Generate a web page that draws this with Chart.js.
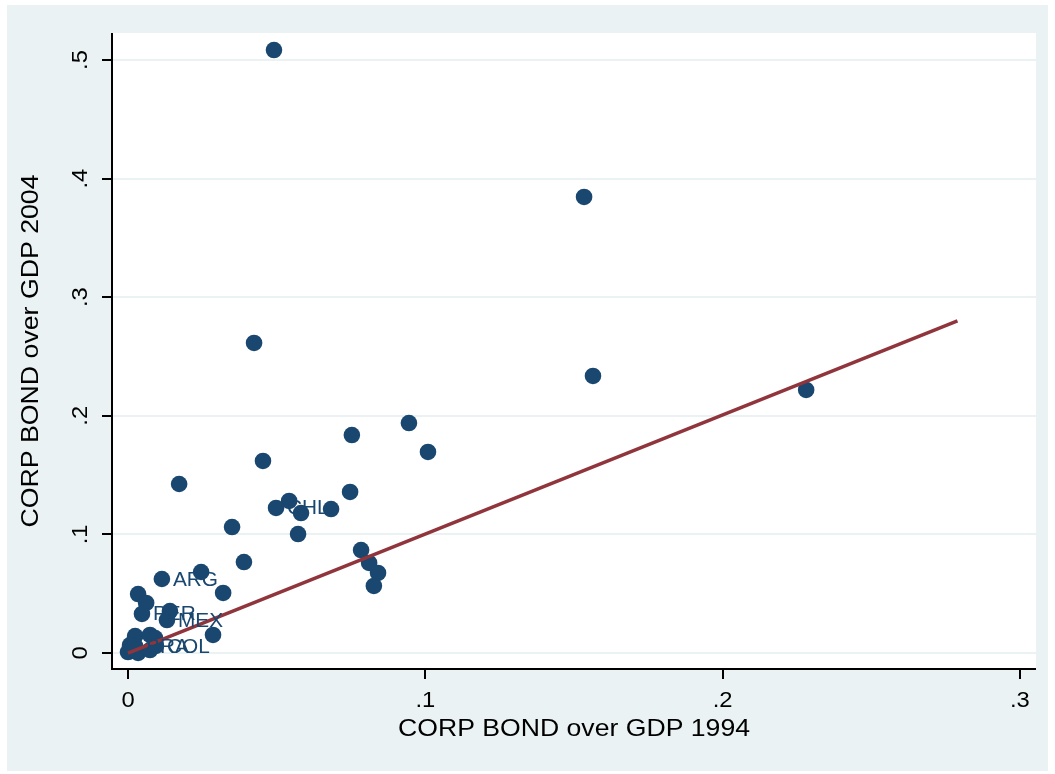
<!DOCTYPE html>
<html>
<head>
<meta charset="utf-8">
<script src="https://cdn.jsdelivr.net/npm/chart.js@4.4.1/dist/chart.umd.min.js"></script>
<style>
html,body{margin:0;padding:0;background:#fff;}
canvas{display:block;}
</style>
</head>
<body>
<canvas id="c" width="1055" height="774"></canvas>
<script>
// ---- data ----
const x1994 = [0.0491,0.1534,0.1564,0.2281,0.0424,0.0945,0.0753,0.1009,0.0454,0.0172,
               0.0747,0.0542,0.0498,0.0582,0.0683,0.0350,0.0572,0.0390,0.0784,0.0811,
               0.0841,0.0827,0.0246,0.0114,0.0320,0.0034,0.0061,0.0047,0.0141,0.0131,
               0.0286,0.0024,0.0074,0.0091,0.0007,0.0000,0.0034,0.0074,0.0024,0.0094];
const y2004 = [0.5084,0.3845,0.2336,0.2218,0.2614,0.1939,0.1838,0.1695,0.1619,0.1425,
               0.1358,0.1282,0.1223,0.1180,0.1214,0.1062,0.1003,0.0767,0.0868,0.0759,
               0.0675,0.0565,0.0683,0.0624,0.0506,0.0497,0.0422,0.0329,0.0354,0.0278,
               0.0152,0.0143,0.0152,0.0126,0.0067,0.0008,0.0000,0.0025,0.0059,0.0059];
const countryLabels = ['','','','','','','','','','',
                       '','','CHL','','','','','','','',
                       '','','','ARG','','','','PER','','MEX',
                       '','','','','','','','','BRA','COL'];
const fitX = [0, 0.279];
const fitY = [0, 0.28];
const xTicks = [0, 0.1, 0.2, 0.3];
const xTickLabels = ['0', '.1', '.2', '.3'];
const yTicks = [0, 0.1, 0.2, 0.3, 0.4, 0.5];
const yTickLabels = ['0', '.1', '.2', '.3', '.4', '.5'];
const xTitle = 'CORP BOND over GDP 1994';
const yTitle = 'CORP BOND over GDP 2004';

// ---- styles ----
const NAVY = '#1A476F';
const MAROON = '#90353B';
const BG = '#EAF2F3';
const FONT = '"Liberation Sans", Arial, sans-serif';

function stretchedText(ctx, text, x, y, size, color, align, targetWidth, stretch) {
  ctx.save();
  ctx.font = size + 'px ' + FONT;
  ctx.fillStyle = color;
  ctx.textBaseline = 'middle';
  const w = ctx.measureText(text).width;
  const sx = targetWidth ? targetWidth / w : (stretch || 1);
  ctx.translate(x, y);
  ctx.scale(sx, 1);
  ctx.textAlign = align;
  ctx.fillText(text, 0, 0);
  ctx.restore();
}

const frame = {
  id: 'frame',
  beforeDraw(chart) {
    const ctx = chart.ctx, a = chart.chartArea;
    ctx.save();
    ctx.fillStyle = '#fff';
    ctx.fillRect(0, 0, chart.width, chart.height);
    ctx.fillStyle = BG;
    ctx.fillRect(7, 5, 1041, 766);
    ctx.fillStyle = '#fff';
    ctx.fillRect(a.left, a.top, a.right - a.left, a.bottom - a.top);
    ctx.restore();
  },
  afterDatasetsDraw(chart) {
    const ctx = chart.ctx;
    const meta = chart.getDatasetMeta(0);
    ctx.save();
    ctx.fillStyle = NAVY;
    countryLabels.forEach((lab, i) => {
      if (!lab) return;
      const p = meta.data[i];
      stretchedText(ctx, lab, p.x + 11, p.y + 1, 20, NAVY, 'left', null, 1.04);
    });
    ctx.restore();
  },
  afterDraw(chart) {
    const ctx = chart.ctx, a = chart.chartArea;
    const xs = chart.scales.x, ys = chart.scales.y;
    ctx.save();
    ctx.strokeStyle = '#000';
    ctx.lineWidth = 2;
    ctx.beginPath();
    ctx.moveTo(a.left, a.top);
    ctx.lineTo(a.left, a.bottom + 1);
    ctx.moveTo(a.left - 1, a.bottom);
    ctx.lineTo(a.right, a.bottom);
    yTicks.forEach(v => {
      const py = Math.round(ys.getPixelForValue(v));
      ctx.moveTo(a.left - 10, py);
      ctx.lineTo(a.left, py);
    });
    xTicks.forEach(v => {
      const px = Math.round(xs.getPixelForValue(v));
      ctx.moveTo(px, a.bottom);
      ctx.lineTo(px, a.bottom + 10);
    });
    ctx.stroke();
    ctx.restore();
    xTicks.forEach((v, i) => {
      stretchedText(ctx, xTickLabels[i], xs.getPixelForValue(v), a.bottom + 32, 22, '#000', 'center', null, 1.08);
    });
    yTicks.forEach((v, i) => {
      ctx.save();
      ctx.translate(a.left - 31, ys.getPixelForValue(v));
      ctx.rotate(-Math.PI / 2);
      stretchedText(ctx, yTickLabels[i], 0, 0, 22, '#000', 'center', null, 1.08);
      ctx.restore();
    });
    stretchedText(ctx, xTitle, 574, 729, 24, '#000', 'center', 352);
    ctx.save();
    ctx.translate(31, 351);
    ctx.rotate(-Math.PI / 2);
    stretchedText(ctx, yTitle, 0, 0, 24, '#000', 'center', 353);
    ctx.restore();
  }
};

const xMin = -0.00538, xMax = 0.30541, yMin = -0.01349, yMax = 0.52277;

new Chart(document.getElementById('c'), {
  type: 'scatter',
  data: {
    datasets: [
      {
        type: 'scatter',
        data: x1994.map((x, i) => ({ x: x, y: y2004[i] })),
        backgroundColor: NAVY,
        borderColor: NAVY,
        borderWidth: 0,
        pointRadius: 8.3,
        pointHoverRadius: 8.3,
        order: 2
      },
      {
        type: 'line',
        data: fitX.map((x, i) => ({ x: x, y: fitY[i] })),
        borderColor: MAROON,
        borderWidth: 3.5,
        pointRadius: 0,
        fill: false,
        order: 1
      }
    ]
  },
  options: {
    responsive: false,
    animation: false,
    events: [],
    layout: { padding: { left: 112, top: 33, right: 19, bottom: 105 } },
    plugins: { legend: { display: false }, tooltip: { enabled: false } },
    scales: {
      x: {
        type: 'linear', min: xMin, max: xMax,
        afterBuildTicks: s => { s.ticks = xTicks.map(v => ({ value: v })); },
        grid: { display: false, drawTicks: false },
        border: { display: false },
        ticks: { display: false },
        title: { display: false }
      },
      y: {
        type: 'linear', min: yMin, max: yMax,
        afterBuildTicks: s => { s.ticks = yTicks.map(v => ({ value: v })); },
        grid: { display: true, drawTicks: false, color: BG, lineWidth: 2 },
        border: { display: false },
        ticks: { display: false },
        title: { display: false }
      }
    }
  },
  plugins: [frame]
});
</script>
</body>
</html>
